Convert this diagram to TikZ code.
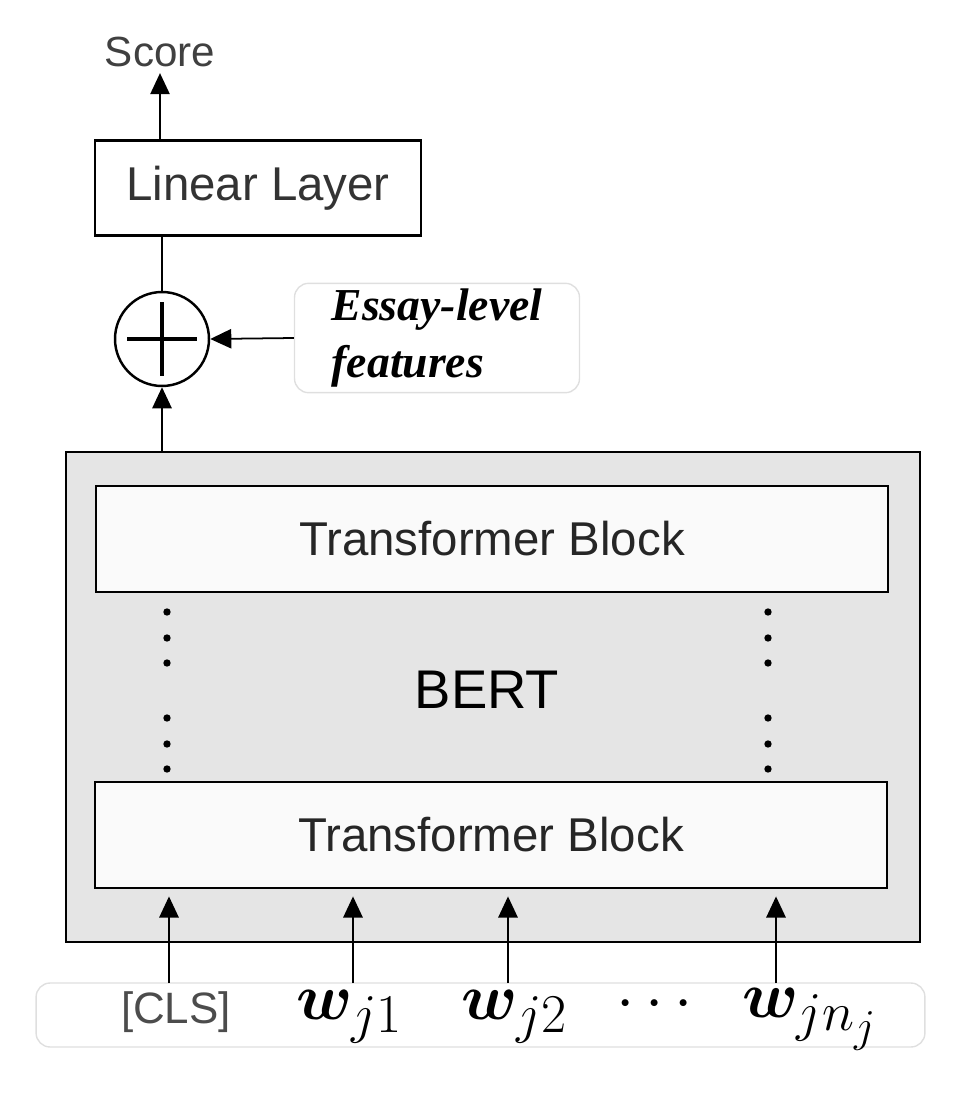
\documentclass[tikz,border=0pt]{standalone}
\usepackage{amsmath}
\usepackage{bm}
\usepackage{fontspec}
\newfontfamily\labelfont{Liberation Sans}
\newfontfamily\featfont{Liberation Serif}
\usetikzlibrary{arrows.meta,positioning,calc}

\newcommand{\bigtok}[1]{\scalebox{1.5}{\fontsize{24.88}{27}\selectfont$#1$}}

\tikzset{
  box/.style={draw, line width=1.6pt, inner sep=0pt},
  block/.style={box, fill=gray!4, minimum width=15.84cm, minimum height=2.12cm,
    font=\labelfont\fontsize{27}{30}\selectfont, text=black!85},
  lnk/.style={->, line width=1pt},
  soft/.style={draw=gray!25, line width=0.8pt, rounded corners=8pt},
}

\begin{document}
\begin{tikzpicture}[>={Triangle[length=12pt,width=11pt]}, x=0.02cm, y=-0.02cm]
\useasboundingbox (0,0) rectangle (972,1098);

% output side
\node[font=\labelfont\fontsize{24}{26}\selectfont, text=black!75] (score) at (160,52) {Score};
\node[box, minimum width=6.52cm, minimum height=1.9cm,
  font=\labelfont\fontsize{27}{30}\selectfont, text=black!80] (linear) at (258,188) {Linear Layer};
\node[draw, circle, line width=1.4pt, minimum size=1.88cm] (plus) at (162,339) {};
\draw[line width=2.2pt] ($(plus)+(-35,0)$) -- ($(plus)+(35,0)$)
  ($(plus)+(0,-37)$) -- ($(plus)+(0,37)$);
\node[soft, minimum width=5.7cm, minimum height=1.8cm, align=left,
  font=\featfont\bfseries\itshape\fontsize{26}{32}\selectfont] (feat) at (437,338) {Essay-level\\features};

% BERT
\node[box, fill=gray!20, minimum width=17.08cm, minimum height=9.8cm] (bert) at (493,697) {};
\node[font=\labelfont\fontsize{31}{34}\selectfont] (bertlbl) at (487,690) {BERT};
\node[block] (tbtop) at (492,539) {Transformer Block};
\node[block] (tbbot) at (491,835) {Transformer Block};
\foreach \x in {167,768}
  \foreach \y in {612,638,663,718,744,769}
    \fill (\x,\y) circle (2.1pt);

% inputs
\node[soft, minimum width=17.78cm, minimum height=1.28cm] (bar) at (480.5,1015) {};
\node[font=\labelfont\fontsize{25}{27}\selectfont, text=black!70] (cls) at (176,1012) {[CLS]};
\node (w1) at (350,1017) {\bigtok{\bm{w}_{j1}}};
\node (w2) at (515,1017) {\bigtok{\bm{w}_{j2}}};
\node (dots) at (660,1005) {\bigtok{\cdots}};
\node (wn) at (810,1019) {\bigtok{\bm{w}_{jn_j}}};
\foreach \n/\x in {a/169,b/353,c/508,d/776}{
  \coordinate (in\n) at (\x,983);
  \draw[lnk, shorten >=4pt] (in\n) -- (in\n |- tbbot.south);
}

% connectors
\draw[lnk] (plus |- bert.north) -- (plus.south);
\draw[lnk] (feat.west) -- (plus.east);
\draw[line width=1pt] (plus.north) -- (plus |- linear.south);
\draw[lnk] (linear.north -| score) -- (score.south);
\end{tikzpicture}
\end{document}
